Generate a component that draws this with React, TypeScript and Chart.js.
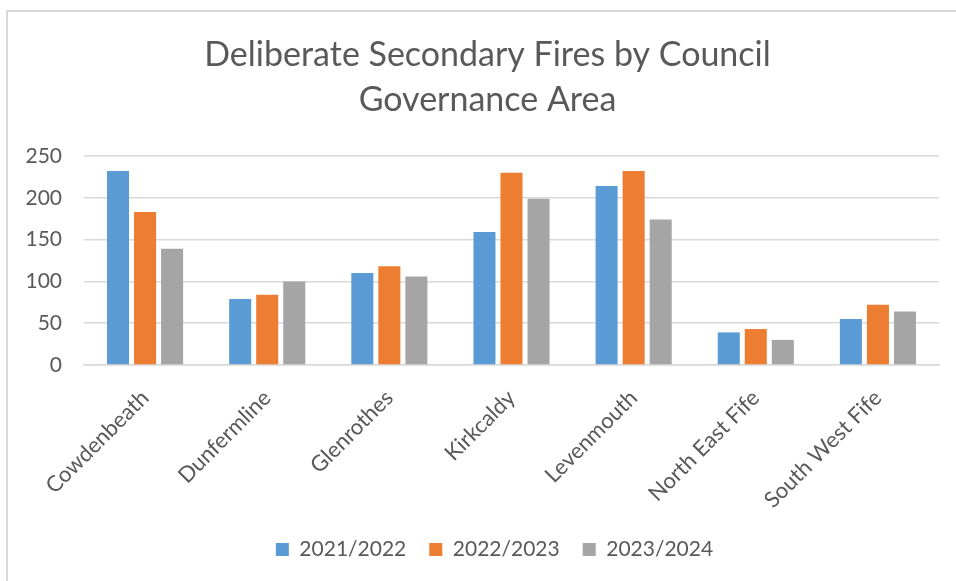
import React, { useEffect, useRef } from "react";
import { Chart, registerables } from "chart.js";

Chart.register(...registerables);

const categories = ["Cowdenbeath", "Dunfermline", "Glenrothes", "Kirkcaldy", "Levenmouth", "North East Fife", "South West Fife"];
const series2021 = [232, 79, 110, 159, 214, 39, 55];
const series2022 = [183, 84, 118, 230, 232, 43, 72];
const series2023 = [139, 100, 106, 199, 174, 30, 64];
const seriesNames = ["2021/2022", "2022/2023", "2023/2024"];
const yTicks = [0, 50, 100, 150, 200, 250];

const FONT = "Lato, 'Open Sans', sans-serif";
const TEXT = "#595959";

const centerShift = {
  id: "centerShift",
  afterLayout(chart: any) {
    const t = chart.titleBlock;
    if (t) {
      t.left += 18;
      t.right += 18;
    }
    const l = chart.legend;
    if (l) {
      l.left += 25;
      l.right += 25;
    }
  },
};

export default function App() {
  const ref = useRef<HTMLCanvasElement | null>(null);
  useEffect(() => {
    if (!ref.current) return;
    const chart = new Chart(ref.current, {
      type: "bar",
      data: {
        labels: categories,
        datasets: [
          { label: seriesNames[0], data: series2021, backgroundColor: "#5B9BD5" },
          { label: seriesNames[1], data: series2022, backgroundColor: "#ED7D31" },
          { label: seriesNames[2], data: series2023, backgroundColor: "#A5A5A5" },
        ],
      },
      plugins: [centerShift],
      options: {
        animation: false,
        responsive: false,
        devicePixelRatio: 1,
        layout: { padding: { left: 0, right: 17, top: 0, bottom: 11 } },
        datasets: { bar: { categoryPercentage: 0.664, barPercentage: 0.815 } },
        plugins: {
          title: {
            display: true,
            text: ["Deliberate Secondary Fires by Council", "Governance Area"],
            color: TEXT,
            font: { family: FONT, size: 34, weight: "normal", lineHeight: 1.3235 },
            padding: { top: 33, bottom: 33 },
          },
          legend: {
            position: "bottom",
            labels: {
              color: TEXT,
              font: { family: FONT, size: 21 },
              boxWidth: 13,
              boxHeight: 13,
              padding: 23,
            },
          },
          tooltip: { enabled: false },
        },
        scales: {
          x: {
            grid: { display: false, drawTicks: false },
            border: { display: true, color: "#d9d9d9", width: 1.5 },
            ticks: {
              color: TEXT,
              font: { family: FONT, size: 22 },
              maxRotation: 45,
              minRotation: 45,
              padding: 20,
              autoSkip: false,
            },
            afterFit: (s: any) => {
              s.height = 151;
            },
          },
          y: {
            min: 0,
            max: 250,
            afterBuildTicks: (s: any) => {
              s.ticks = yTicks.map((v) => ({ value: v }));
            },
            grid: { color: "#d9d9d9", lineWidth: 1.5, drawTicks: false },
            border: { display: false },
            ticks: {
              color: TEXT,
              font: { family: FONT, size: 21 },
              padding: 22,
            },
            afterFit: (s: any) => {
              s.width = 84;
            },
          },
        },
      },
    });
    return () => chart.destroy();
  }, []);

  return (
    <div style={{ position: "fixed", left: 0, top: 0, width: 956, height: 581, background: "#fff", overflow: "hidden" }}>
      <div
        style={{
          position: "absolute",
          left: 6,
          top: 10,
          width: 960,
          height: 580,
          borderLeft: "2px solid #d9d9d9",
          borderTop: "2px solid #d9d9d9",
        }}
      />
      <canvas ref={ref} width={956} height={581} style={{ position: "absolute", left: 0, top: 0 }} />
    </div>
  );
}
